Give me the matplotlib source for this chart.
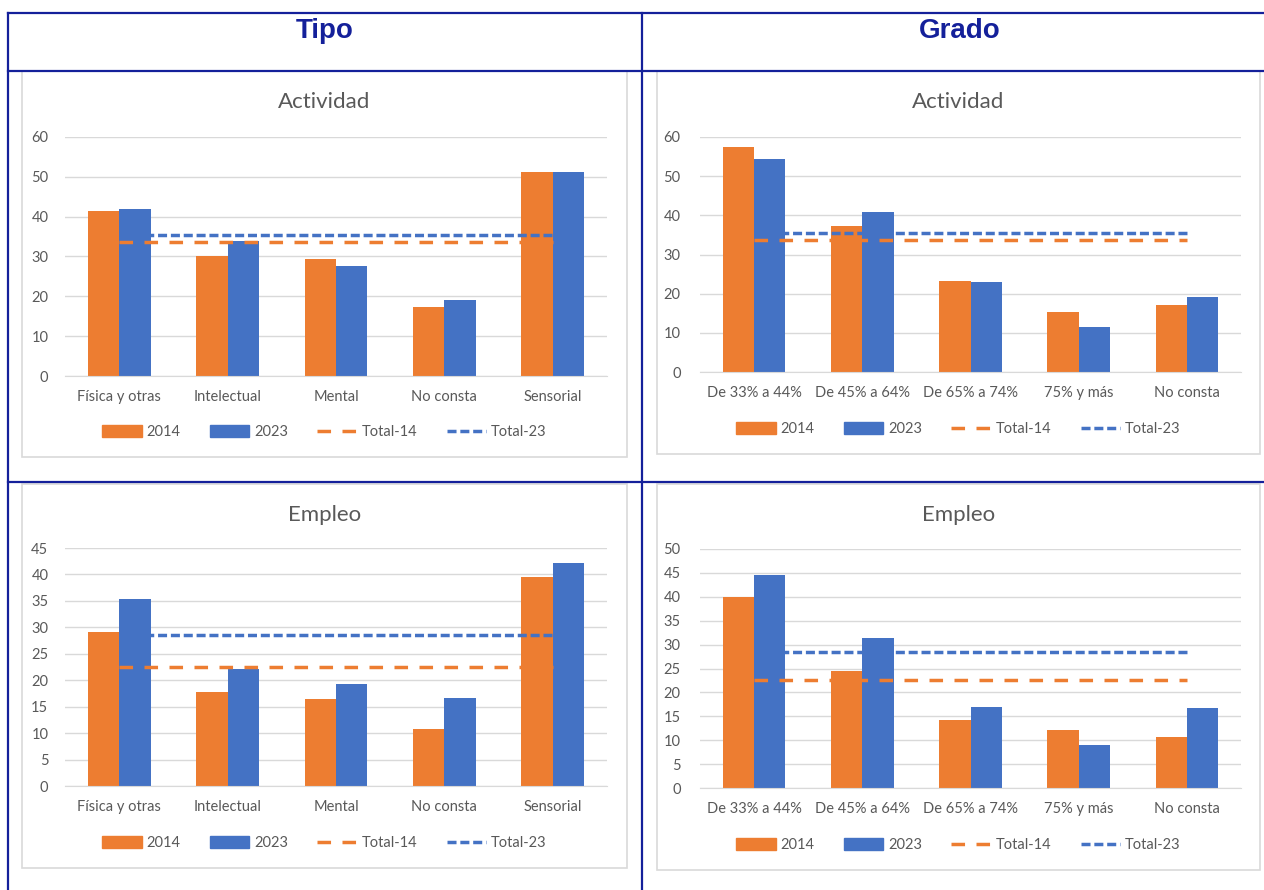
import matplotlib.pyplot as plt
from matplotlib.lines import Line2D
from matplotlib.patches import Rectangle, Patch

plt.rcParams['font.family'] = ['Lato', 'DejaVu Sans']

# datos
tipo_cats = ['Física y otras', 'Intelectual', 'Mental', 'No consta', 'Sensorial']
grado_cats = ['De 33% a 44%', 'De 45% a 64%', 'De 65% a 74%', '75% y más', 'No consta']

tipo_act_2014 = [41.4, 30.1, 29.4, 17.3, 51.1]
tipo_act_2023 = [42.0, 33.8, 27.5, 19.0, 51.1]
tipo_act_total = [33.6, 35.4]

grado_act_2014 = [57.4, 37.4, 23.2, 15.3, 17.1]
grado_act_2023 = [54.3, 40.9, 23.0, 11.5, 19.1]
grado_act_total = [33.6, 35.5]

tipo_emp_2014 = [29.2, 17.8, 16.5, 10.7, 39.5]
tipo_emp_2023 = [35.3, 22.1, 19.2, 16.6, 42.2]
tipo_emp_total = [22.5, 28.5]

grado_emp_2014 = [40.0, 24.5, 14.2, 12.2, 10.6]
grado_emp_2023 = [44.5, 31.3, 17.0, 8.9, 16.7]
grado_emp_total = [22.5, 28.4]

W, H = 1264, 890
NAVY = '#14209A'
ORANGE = '#ED7D31'
BLUE = '#4472C4'
GRID = '#D9D9D9'
TXT = '#595959'

fig = plt.figure(figsize=(W / 100, H / 100), dpi=100)


def fx(x):
    return x / W


def fy(y):
    return 1 - y / H


# lineas de la tabla
for (x0, y0, x1, y1) in [(8, 13, 1264, 13), (8, 71, 1264, 71), (8, 482, 1264, 482),
                         (8, 13, 8, 890), (642, 13, 642, 890)]:
    fig.add_artist(Line2D([fx(x0), fx(x1)], [fy(y0), fy(y1)], color=NAVY, lw=1.6))

fig.text(fx(325), fy(31), 'Tipo', color=NAVY, fontsize=20, fontweight='bold',
         family='Liberation Sans', ha='center', va='center')
fig.text(fx(960), fy(31), 'Grado', color=NAVY, fontsize=20, fontweight='bold',
         family='Liberation Sans', ha='center', va='center')


def chart(box, plot, cats, v14, v23, tot, title, ymax, ystep, ypad):
    bx0, by0, bx1, by1 = box
    fig.add_artist(Rectangle((fx(bx0), fy(by1)), fx(bx1 - bx0), (by1 - by0) / H,
                             fill=False, edgecolor=GRID, lw=1.2))
    px0, py0, px1, py1 = plot
    ax = fig.add_axes([fx(px0), fy(py1), fx(px1 - px0), (py1 - py0) / H])
    x = list(range(len(cats)))
    w = 0.29
    ax.bar([i - w / 2 for i in x], v14, w, color=ORANGE, zorder=2)
    ax.bar([i + w / 2 for i in x], v23, w, color=BLUE, zorder=2)
    ax.plot(x, [tot[0]] * len(x), color=ORANGE, lw=2.5, dashes=(3.9, 3.3), zorder=3)
    ax.plot(x, [tot[1]] * len(x), color=BLUE, lw=2.5, dashes=(2.6, 1.1), zorder=3)
    ax.set_xlim(-0.5, len(cats) - 0.5)
    ax.set_ylim(0, ymax)
    ax.set_yticks(range(0, ymax + 1, ystep))
    ax.set_xticks(x)
    ax.set_xticklabels(cats)
    ax.grid(axis='y', color=GRID, lw=1, zorder=0)
    for s in ['top', 'right', 'left']:
        ax.spines[s].set_visible(False)
    ax.spines['bottom'].set_color(GRID)
    ax.tick_params(axis='both', length=0, colors=TXT, labelsize=10.5)
    ax.tick_params(axis='y', pad=ypad)
    ax.tick_params(axis='x', pad=10)
    ax.set_facecolor('none')
    fig.text(fx((bx0 + bx1) / 2), fy(by0 + 31), title, color=TXT, fontsize=16,
             ha='center', va='center')
    handles = [Patch(color=ORANGE), Patch(color=BLUE),
               Line2D([], [], color=ORANGE, lw=2.5, dashes=(3.9, 3.3)),
               Line2D([], [], color=BLUE, lw=2.5, dashes=(2.6, 1.1))]
    fig.legend(handles, ['2014', '2023', 'Total-14', 'Total-23'], ncol=4,
               loc='center', bbox_to_anchor=(fx((bx0 + bx1) / 2), fy(by1 - 25)),
               frameon=False, fontsize=10.5, handlelength=2.7, handleheight=0.8,
               handletextpad=0.35, columnspacing=2.0, labelcolor=TXT)
    return ax


chart((22, 71, 627, 457), (65, 137, 607, 376), tipo_cats,
      tipo_act_2014, tipo_act_2023, tipo_act_total, 'Actividad', 60, 10, 12)
chart((657, 71, 1260, 454), (700, 137, 1241, 372), grado_cats,
      grado_act_2014, grado_act_2023, grado_act_total, 'Actividad', 60, 10, 14)
chart((22, 484, 627, 868), (65, 548, 607, 786), tipo_cats,
      tipo_emp_2014, tipo_emp_2023, tipo_emp_total, 'Empleo', 45, 5, 12)
chart((657, 484, 1260, 870), (700, 549, 1241, 788), grado_cats,
      grado_emp_2014, grado_emp_2023, grado_emp_total, 'Empleo', 50, 5, 14)

fig.savefig('out.png', dpi=100, facecolor='white')
